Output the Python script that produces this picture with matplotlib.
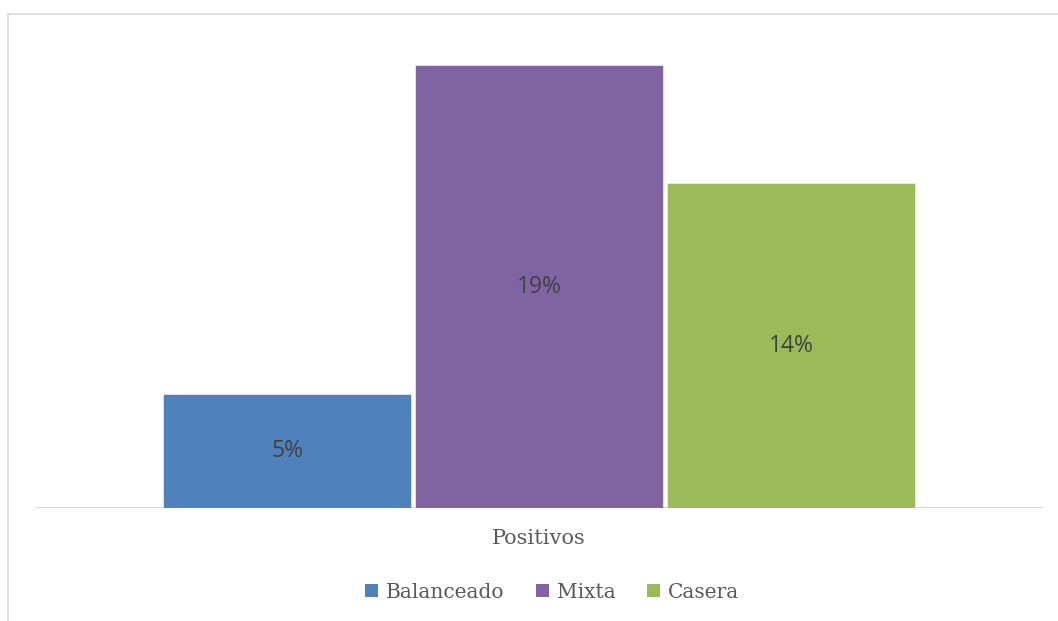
import matplotlib.pyplot as plt
import matplotlib.patches as patches

# datos del grafico
categoria = "Positivos"
series = ["Balanceado", "Mixta", "Casera"]
valores = [4.9, 19.0, 13.95]
colores = ["#4F81BD", "#8064A2", "#9BBB59"]

fig = plt.figure(figsize=(10.58, 6.21), dpi=100)
ax = fig.add_axes([0.0331, 0.1812, 0.9527, 0.752])

# borde del area del grafico
borde = patches.Rectangle((0.0076, -0.05), 1.2, 1.0275, transform=fig.transFigure,
                          fill=False, edgecolor="#d9d9d9", linewidth=1.2, zorder=0)
fig.patches.append(borde)

posiciones = [-1, 0, 1]
for pos, nombre, val, col in zip(posiciones, series, valores, colores):
    ax.bar(pos, val, width=0.985, color=col, edgecolor="#e4eaf2", linewidth=0.6,
           label=nombre, zorder=3)
    ax.text(pos, val / 2, f"{val:.0f}%", ha="center", va="center",
            fontsize=16.5, color="#404040", family="Open Sans", zorder=4)

ax.set_xlim(-2, 2)
ax.set_ylim(0, 20)
ax.axhline(0, color="#d4d4d4", linewidth=2, zorder=1)
for s in ax.spines.values():
    s.set_visible(False)
ax.set_yticks([])
ax.set_xticks([])

fig.text(0.5095, 1 - 538 / 621, categoria, ha="center", va="center",
         fontsize=15, color="#595959", family="DejaVu Serif")

leg = fig.legend(loc="center", bbox_to_anchor=(0.522, 1 - 592 / 621), ncol=3,
                 frameon=False, handlelength=0.65, handleheight=0.65,
                 handletextpad=0.4, columnspacing=1.55,
                 prop={"family": "DejaVu Serif", "size": 14.5})
for t in leg.get_texts():
    t.set_color("#595959")
for h in leg.legend_handles:
    h.set_edgecolor("none")

fig.savefig("out.png", dpi=100, facecolor="white")
